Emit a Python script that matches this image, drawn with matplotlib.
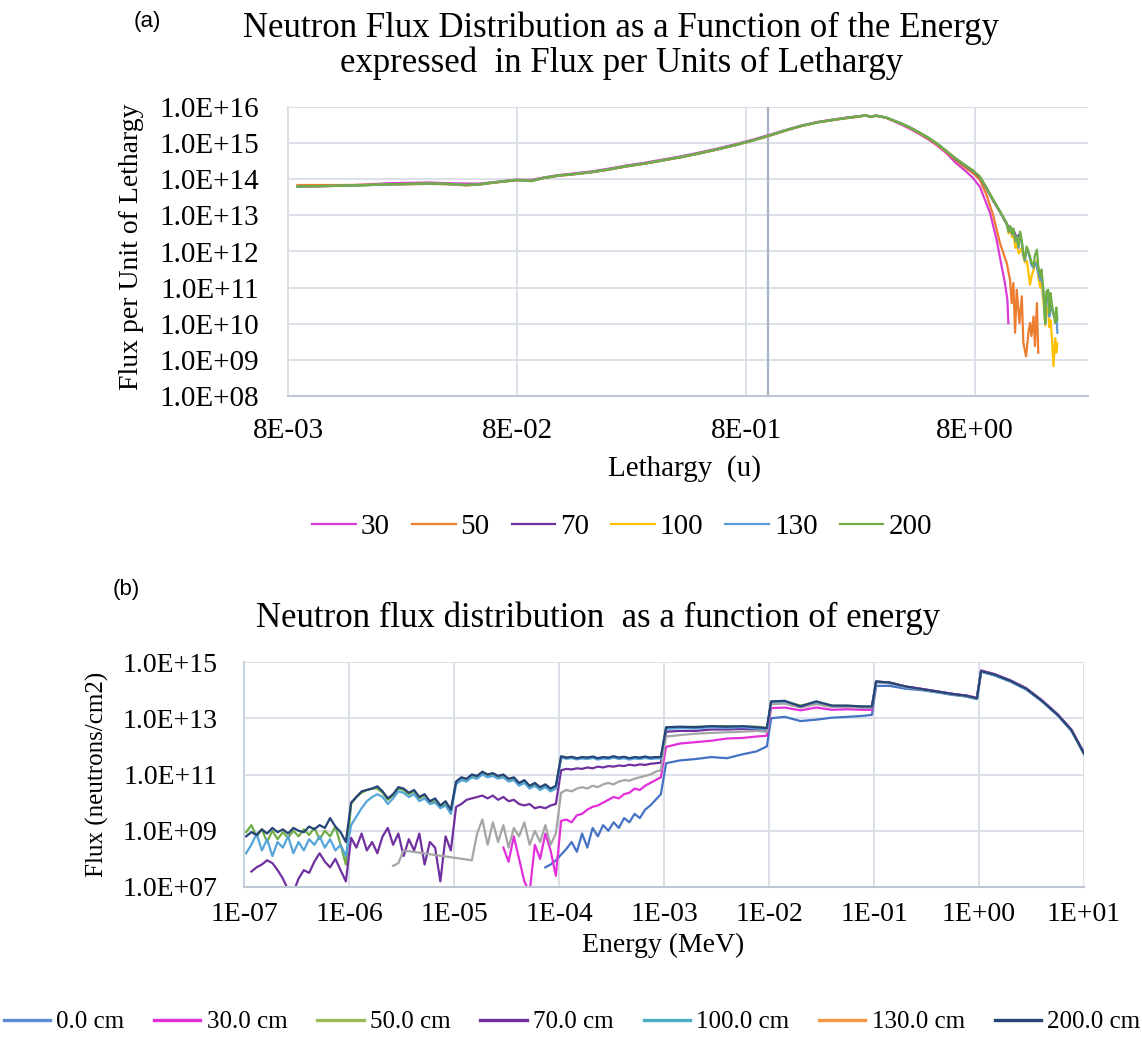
import numpy as np
import matplotlib
matplotlib.use('Agg')
import matplotlib.pyplot as plt
from matplotlib.lines import Line2D
from matplotlib.ticker import NullLocator

# ---------------- (a) flux per unit lethargy ----------------
# shared body of the curve (all six series overlap here), log10 values
u_body = [0.0088, 0.011, 0.014, 0.018, 0.022, 0.027, 0.033, 0.040, 0.048, 0.055,
          0.063, 0.072, 0.080, 0.092, 0.105, 0.12, 0.14, 0.17, 0.20, 0.24,
          0.29, 0.35, 0.42, 0.50, 0.60, 0.72, 0.86, 1.0, 1.2, 1.4,
          1.65, 1.9, 2.15, 2.35, 2.5, 2.65, 2.8, 2.95, 3.1, 3.3,
          3.55, 3.85, 4.2, 4.6, 5.0, 5.5, 6.0]
lphi_body = [13.80, 13.81, 13.82, 13.84, 13.86, 13.87, 13.88, 13.87, 13.84, 13.86,
             13.91, 13.95, 13.98, 13.95, 14.04, 14.10, 14.14, 14.20, 14.27, 14.36,
             14.44, 14.53, 14.62, 14.72, 14.83, 14.95, 15.08, 15.20, 15.36, 15.48,
             15.58, 15.64, 15.69, 15.72, 15.74, 15.77, 15.73, 15.76, 15.74, 15.70,
             15.62, 15.53, 15.42, 15.28, 15.15, 14.97, 14.78]
lphi_body_30 = [13.80, 13.81, 13.82, 13.86, 13.89, 13.90, 13.91, 13.89, 13.88, 13.88,
                13.92, 13.96, 13.99, 13.98, 14.05, 14.11, 14.16, 14.22, 14.29, 14.38,
                14.46, 14.55, 14.64, 14.74, 14.85, 14.97, 15.10, 15.22, 15.37, 15.49,
                15.59, 15.65, 15.70, 15.73, 15.75, 15.77, 15.74, 15.76, 15.74, 15.69,
                15.60, 15.50, 15.38, 15.24, 15.10, 14.92, 14.72]
lphi_body_50 = [13.84, 13.84, 13.84, 13.85, 13.86, 13.86, 13.87, 13.86, 13.83, 13.85,
                13.90, 13.94, 13.97, 13.96, 14.03, 14.09, 14.13, 14.19, 14.26, 14.35,
                14.43, 14.52, 14.61, 14.71, 14.82, 14.94, 15.07, 15.19, 15.35, 15.47,
                15.57, 15.63, 15.68, 15.71, 15.73, 15.76, 15.72, 15.75, 15.73, 15.69,
                15.61, 15.52, 15.40, 15.26, 15.12, 14.94, 14.75]

# high-lethargy tails where the series split apart (log10 values)
tail_u_30 = [6.6, 7.2, 7.8, 8.4, 9.31, 9.94, 10.45, 10.8, 11.07, 11.18]
tail_l_30 = [14.45, 14.25, 14.05, 13.79, 13.06, 12.32, 11.59, 11.13, 10.67, 10.02]

tail_u_50 = [6.6, 7.2, 7.8, 8.4, 9.0, 9.6, 10.28, 11.0, 11.37, 11.56, 11.76, 11.96,
             12.16, 12.5, 12.8, 13.0, 13.36, 13.68, 13.9, 14.1, 14.4, 14.6, 14.9, 15.1]
tail_l_50 = [14.52, 14.33, 14.18, 13.98, 13.55, 13.00, 12.23, 11.68, 11.22, 10.57, 11.13, 9.75,
             10.94, 10.02, 10.76, 9.47, 9.10, 9.75, 10.02, 9.66, 10.20, 9.38, 10.57, 9.20]

tail_u_70 = [6.6, 7.2, 7.8, 8.4, 9.0, 9.6, 10.3, 11.0, 11.4, 11.76, 12.16, 12.58]
tail_l_70 = [14.55, 14.38, 14.23, 14.05, 13.72, 13.40, 13.08, 12.75, 12.66, 12.60, 12.38, 12.50]

tail_u = [6.6, 7.2, 7.8, 8.4, 9.0, 9.6, 10.3, 11.0, 11.2, 11.4,
          11.6, 11.76, 12.0, 12.16, 12.4, 12.58, 12.8, 13.0, 13.2, 13.45,
          13.7, 13.9, 14.1, 14.4, 14.6, 14.9, 15.1, 15.4, 15.6, 15.9,
          16.0, 16.2, 16.4, 16.7, 16.9, 17.1, 17.3, 17.6, 17.9, 18.1, 18.3]
tail_l_100 = [14.57, 14.40, 14.25, 14.07, 13.75, 13.43, 13.10, 12.78, 12.50, 12.60,
              12.40, 12.50, 12.10, 12.25, 11.95, 12.00, 12.10, 11.85, 11.70, 11.75,
              11.40, 11.08, 11.30, 11.50, 11.60, 11.75, 11.30, 11.00, 11.20, 10.60,
              10.40, 9.95, 10.50, 10.30, 9.90, 10.10, 9.66, 8.83, 9.60, 9.20, 9.45]
tail_l_130 = [14.57, 14.40, 14.25, 14.07, 13.75, 13.43, 13.10, 12.78, 12.55, 12.68,
              12.48, 12.60, 12.28, 12.38, 12.10, 12.50, 12.25, 11.90, 11.75, 12.10,
              11.95, 11.80, 11.62, 11.55, 11.70, 11.60, 11.40, 11.20, 11.35, 10.85,
              10.60, 10.00, 10.80, 10.70, 10.20, 10.60, 10.40, 10.25, 10.20, 10.30, 9.75]
tail_l_200 = [14.57, 14.40, 14.25, 14.07, 13.75, 13.43, 13.10, 12.78, 12.55, 12.70,
              12.50, 12.64, 12.30, 12.41, 12.15, 12.55, 12.30, 11.95, 11.80, 12.14,
              12.00, 11.86, 11.70, 11.59, 11.90, 12.05, 11.60, 11.31, 11.50, 10.94,
              10.70, 10.02, 10.90, 10.94, 10.30, 10.85, 10.57, 10.30, 10.02, 10.45, 10.10]

labels_a = ['30', '50', '70', '100', '130', '200']
colors_a = ['#D93BD3', '#ED7D31', '#7030A0', '#FFC000', '#5B9BD5', '#70AD47']

# ---------------- (b) flux vs energy ----------------
loge = [-6.98, -6.93, -6.88, -6.83, -6.78, -6.73, -6.68, -6.63, -6.58, -6.53,
        -6.48, -6.43, -6.38, -6.33, -6.28, -6.23, -6.18, -6.13, -6.08, -6.03,
        -5.98, -5.93, -5.88, -5.83, -5.78, -5.73, -5.68, -5.63, -5.58, -5.53,
        -5.48, -5.43, -5.38, -5.33, -5.28, -5.23, -5.18, -5.13, -5.08, -5.03,
        -4.98, -4.93, -4.88, -4.83, -4.78, -4.73, -4.68, -4.63, -4.58, -4.53,
        -4.48, -4.43, -4.38, -4.33, -4.28, -4.23, -4.18, -4.13, -4.08, -4.03,
        -3.98, -3.93, -3.88, -3.83, -3.78, -3.73, -3.68, -3.63, -3.58, -3.53,
        -3.48, -3.43, -3.38, -3.33, -3.28, -3.23, -3.18, -3.13, -3.08, -3.03,
        -2.98, -2.85, -2.70, -2.55, -2.40, -2.25, -2.12, -2.02,
        -1.98, -1.85, -1.70, -1.55, -1.40, -1.25, -1.12, -1.02,
        -0.98, -0.85, -0.70, -0.55, -0.40, -0.25, -0.12, -0.02,
        0.02, 0.15, 0.30, 0.45, 0.60, 0.75, 0.88, 1.00]

n = np.nan
lf_0 = ([n] * 40 +
        [n] * 17 + [7.70, 7.80, 7.95] +
        [8.15, 8.35, 8.60, 8.25, 8.90, 8.40, 9.10, 8.80, 9.20, 9.00,
         9.30, 9.10, 9.45, 9.30, 9.60, 9.45, 9.75, 9.90, 10.10, 10.30] +
        [11.40, 11.50, 11.55, 11.62, 11.58, 11.72, 11.82, 12.00] +
        [13.00, 13.05, 12.90, 12.95, 13.02, 13.05, 13.08, 13.12] +
        [14.15, 14.15, 14.05, 14.00, 13.92, 13.83, 13.77, 13.68] +
        [14.65, 14.52, 14.30, 14.02, 13.60, 13.10, 12.56, 11.74])

lf_30 = ([n] * 40 +
         [n] * 9 + [8.40, 7.90, 8.80, 8.00, 7.20, 6.80, 8.50, 8.00, 8.90, 8.30, 7.40] +
         [9.35, 9.40, 9.30, 9.55, 9.60, 9.75, 9.85, 9.90, 10.00, 10.10,
          10.20, 10.15, 10.30, 10.35, 10.50, 10.45, 10.60, 10.70, 10.80, 10.90] +
         [11.98, 12.10, 12.15, 12.20, 12.28, 12.30, 12.35, 12.38] +
         [13.36, 13.38, 13.28, 13.38, 13.30, 13.32, 13.30, 13.30] +
         [14.30, 14.27, 14.13, 14.05, 13.96, 13.87, 13.81, 13.73] +
         [14.70, 14.57, 14.35, 14.07, 13.64, 13.14, 12.60, 11.78])

lf_50 = ([8.95, 9.20, 8.80, 9.05, 8.60, 9.00, 8.70, 8.95, 8.75, 9.00,
          8.80, 9.05, 8.85, 9.10, 8.70, 9.00, 8.80, 9.15, 8.50, 7.80] +
         [9.95, 10.20, 10.35, 10.45, 10.50, 10.50, 10.35, 10.10, 10.25, 10.50,
          10.45, 10.30, 10.40, 10.15, 10.25, 10.00, 10.05, 9.85, 9.95, 9.70] +
         [10.70, 10.85, 10.80, 10.95, 10.90, 11.05, 10.95, 11.00, 10.90, 10.95,
          10.80, 10.85, 10.65, 10.75, 10.55, 10.65, 10.50, 10.60, 10.45, 10.55] +
         [11.63, 11.60, 11.60, 11.57, 11.60, 11.60, 11.62, 11.57, 11.60, 11.58,
          11.63, 11.58, 11.62, 11.57, 11.60, 11.58, 11.62, 11.58, 11.60, 11.60] +
         [12.66, 12.68, 12.70, 12.70, 12.72, 12.70, 12.70, 12.66] +
         [13.58, 13.60, 13.45, 13.58, 13.44, 13.44, 13.42, 13.40] +
         [14.30, 14.26, 14.12, 14.03, 13.94, 13.85, 13.79, 13.70] +
         [14.67, 14.54, 14.32, 14.04, 13.61, 13.11, 12.57, 11.72])

lf_70 = ([n, 7.55, 7.70, 7.80, 7.95, 7.85, 7.60, 7.30, 6.90, 6.80,
          7.30, 7.60, 7.50, 7.90, 8.20, 7.90, 7.70, 8.00, 7.60, 7.20] +
         [8.75, 8.40, 8.90, 8.30, 8.60, 8.20, 8.80, 9.10, 8.50, 8.90,
          8.10, 8.70, 8.30, 8.90, 7.80, 8.60, 8.40, 7.20, 8.80, 8.30] +
         [9.85, 9.95, 10.10, 10.15, 10.20, 10.25, 10.15, 10.25, 10.10, 10.20,
          10.05, 10.10, 9.95, 9.90, 9.95, 9.80, 9.85, 9.80, 9.90, 9.95] +
         [11.15, 11.20, 11.18, 11.22, 11.20, 11.25, 11.22, 11.28, 11.25, 11.30,
          11.28, 11.32, 11.30, 11.35, 11.32, 11.36, 11.34, 11.38, 11.40, 11.42] +
         [12.52, 12.55, 12.55, 12.60, 12.60, 12.62, 12.60, 12.58] +
         [13.56, 13.58, 13.42, 13.56, 13.42, 13.42, 13.40, 13.40] +
         [14.30, 14.26, 14.12, 14.04, 13.95, 13.86, 13.80, 13.71] +
         [14.69, 14.56, 14.34, 14.06, 13.63, 13.13, 12.59, 11.76])

lf_100 = ([8.20, 8.50, 8.90, 8.30, 8.70, 8.10, 8.60, 8.40, 8.80, 8.20,
           8.60, 8.30, 8.70, 8.50, 8.80, 8.40, 8.70, 8.30, 8.50, 8.10] +
          [9.20, 9.50, 9.80, 10.05, 10.20, 10.30, 10.20, 9.95, 10.15, 10.40,
           10.35, 10.20, 10.30, 10.05, 10.15, 9.95, 10.00, 9.80, 9.90, 9.60] +
          [10.65, 10.80, 10.75, 10.90, 10.85, 11.00, 10.90, 10.95, 10.85, 10.90,
           10.75, 10.80, 10.60, 10.70, 10.50, 10.60, 10.45, 10.55, 10.40, 10.50] +
          [11.60, 11.56, 11.58, 11.54, 11.57, 11.55, 11.59, 11.53, 11.57, 11.55,
           11.60, 11.55, 11.58, 11.53, 11.57, 11.55, 11.59, 11.55, 11.57, 11.57] +
          [12.62, 12.65, 12.64, 12.68, 12.66, 12.68, 12.64, 12.60] +
          [13.55, 13.56, 13.40, 13.55, 13.42, 13.42, 13.38, 13.38] +
          [14.28, 14.24, 14.10, 14.02, 13.93, 13.84, 13.78, 13.69] +
          [14.66, 14.53, 14.31, 14.03, 13.60, 13.10, 12.56, 11.73])

lf_130 = ([n] * 20 +
          [n] * 8 + [7.75, 7.85, 8.30] + [n] * 9 +
          [n, n, n, 7.95, 8.90, 9.40, 8.50, 9.30, 8.60, 9.20,
           8.40, 9.10, 8.80, 9.30, 8.50, 9.00, 8.60, 9.20, 8.50, 8.90] +
          [10.35, 10.45, 10.40, 10.50, 10.55, 10.50, 10.60, 10.55, 10.65, 10.70,
           10.65, 10.75, 10.80, 10.78, 10.85, 10.90, 10.95, 11.00, 11.10, 11.15] +
          [12.35, 12.40, 12.45, 12.48, 12.50, 12.52, 12.55, 12.52] +
          [13.50, 13.52, 13.38, 13.50, 13.40, 13.40, 13.38, 13.38] +
          [14.28, 14.25, 14.11, 14.03, 13.94, 13.85, 13.79, 13.70] +
          [14.68, 14.55, 14.33, 14.05, 13.62, 13.12, 12.58, 11.75])

lf_200 = ([8.80, 8.95, 8.85, 9.05, 8.90, 9.10, 8.95, 9.05, 8.90, 9.10,
           9.00, 8.95, 9.15, 9.05, 9.20, 9.10, 9.45, 9.15, 8.95, 8.60] +
          [10.00, 10.20, 10.40, 10.45, 10.50, 10.58, 10.40, 10.15, 10.30, 10.55,
           10.50, 10.35, 10.45, 10.20, 10.30, 10.05, 10.15, 9.90, 10.05, 9.75] +
          [10.75, 10.90, 10.85, 11.00, 10.95, 11.10, 11.00, 11.05, 10.95, 11.00,
           10.85, 10.90, 10.70, 10.80, 10.60, 10.70, 10.55, 10.65, 10.50, 10.60] +
          [11.65, 11.60, 11.63, 11.58, 11.62, 11.60, 11.64, 11.58, 11.62, 11.60,
           11.65, 11.60, 11.63, 11.58, 11.62, 11.60, 11.64, 11.60, 11.62, 11.62] +
          [12.68, 12.70, 12.68, 12.72, 12.70, 12.72, 12.68, 12.65] +
          [13.60, 13.62, 13.42, 13.60, 13.45, 13.45, 13.42, 13.42] +
          [14.31, 14.27, 14.13, 14.04, 13.95, 13.86, 13.80, 13.71] +
          [14.68, 14.55, 14.33, 14.05, 13.62, 13.12, 12.58, 11.75])

labels_b = ['0.0 cm', '30.0 cm', '50.0 cm', '70.0 cm', '100.0 cm', '130.0 cm', '200.0 cm']
colors_b = ['#4472C4', '#E22FD9', '#70AD47', '#7030A0', '#55A5DA', '#A5A5A5', '#264478']
legend_colors_b = ['#5B8BD0', '#E22FD9', '#9BBB59', '#7030A0', '#4BACC6', '#F79646', '#264478']

# ---------------- figure ----------------
W, H = 1142, 1039
plt.rcParams['font.family'] = ['Liberation Serif', 'DejaVu Serif']
fig = plt.figure(figsize=(W / 100, H / 100), dpi=100)


def fx(x):
    return x / W


def fy(y):
    return 1 - y / H


grid_c = '#D9DEE7'

# panel (a)
ax1 = fig.add_axes([fx(288), fy(396), 800 / W, 289 / H])
bodies = {'30': lphi_body_30, '50': lphi_body_50}
tails = [(tail_u_30, tail_l_30), (tail_u_50, tail_l_50), (tail_u_70, tail_l_70),
         (tail_u, tail_l_100), (tail_u, tail_l_130), (tail_u, tail_l_200)]
ax1.axvline(1.0, color='#A9B3C6', lw=1.6, zorder=1.5)
for lab, col, (tu, tl) in zip(labels_a, colors_a, tails):
    body = bodies.get(lab, lphi_body)
    u = np.array(u_body + tu)
    phi = 10 ** np.array(body + tl)
    ax1.plot(u, phi, color=col, lw=1.6, label=lab, zorder=2)

ax1.set_xscale('log')
ax1.set_yscale('log')
ax1.set_xlim(8e-3, 24.9)
ax1.set_ylim(1e8, 1e16)
ax1.set_xticks([8e-3, 8e-2, 8e-1, 8])
ax1.set_xticklabels(['8E-03', '8E-02', '8E-01', '8E+00'])
ax1.set_yticks([10.0 ** k for k in range(8, 17)])
ax1.set_yticklabels(['1.0E+%02d' % k for k in range(8, 17)])
ax1.xaxis.set_minor_locator(NullLocator())
ax1.yaxis.set_minor_locator(NullLocator())
ax1.tick_params(axis='y', length=0, labelsize=21, pad=21)
ax1.tick_params(axis='x', length=0, labelsize=21, pad=16)
ax1.grid(True, color=grid_c, lw=1.3)
ax1.set_axisbelow(True)
for s in ['top', 'right']:
    ax1.spines[s].set_visible(False)
ax1.spines['left'].set_color(grid_c)
ax1.spines['left'].set_linewidth(1.3)
ax1.spines['bottom'].set_color('#BFC7D4')
ax1.spines['bottom'].set_linewidth(1.5)

fig.text(fx(147), fy(22), '(a)', family='Liberation Sans', size=16, ha='center', va='center')
fig.text(fx(621), fy(37), 'Neutron Flux Distribution as a Function of the Energy',
         size=25, ha='center', va='baseline')
fig.text(fx(622), fy(72), 'expressed  in Flux per Units of Lethargy',
         size=25, ha='center', va='baseline')
fig.text(fx(132), fy(247), 'Flux per Unit of Lethargy', size=20, rotation=90,
         ha='center', va='center')
fig.text(fx(684), fy(469), 'Lethargy  (u)', size=21, ha='center', va='center')
fig.legend(*ax1.get_legend_handles_labels(), loc='center', bbox_to_anchor=(fx(622), fy(527)),
           ncol=6, frameon=False, fontsize=21, handlelength=1.5, handletextpad=0.17,
           columnspacing=0.75)

# panel (b)
ax2 = fig.add_axes([fx(244), fy(887), 840 / W, 225 / H])
energy = 10 ** np.array(loge)
for lab, col, lf in zip(labels_b, colors_b, [lf_0, lf_30, lf_50, lf_70, lf_100, lf_130, lf_200]):
    lf = np.array(lf)
    ok = ~np.isnan(lf)
    ax2.plot(energy[ok], 10 ** lf[ok], color=col, lw=1.6, zorder=2)

ax2.set_xscale('log')
ax2.set_yscale('log')
ax2.set_xlim(1e-7, 10)
ax2.set_ylim(1e7, 1e15)
ax2.set_xticks([10.0 ** k for k in range(-7, 2)])
ax2.set_xticklabels(['1E-07', '1E-06', '1E-05', '1E-04', '1E-03', '1E-02', '1E-01', '1E+00', '1E+01'])
ax2.set_yticks([10.0 ** k for k in range(7, 16, 2)])
ax2.set_yticklabels(['1.0E+%02d' % k for k in range(7, 16, 2)])
ax2.xaxis.set_minor_locator(NullLocator())
ax2.yaxis.set_minor_locator(NullLocator())
ax2.tick_params(axis='y', length=0, labelsize=20, pad=19)
ax2.tick_params(axis='x', length=0, labelsize=20, pad=11)
ax2.grid(True, color=grid_c, lw=1.3)
ax2.set_axisbelow(True)
for s in ['top', 'right']:
    ax2.spines[s].set_visible(False)
ax2.spines['left'].set_color('#C9D1DD')
ax2.spines['left'].set_linewidth(1.5)
ax2.spines['bottom'].set_color('#BFC7D4')
ax2.spines['bottom'].set_linewidth(1.5)

fig.text(fx(126), fy(589), '(b)', family='Liberation Sans', size=16, ha='center', va='center')
fig.text(fx(598), fy(627), 'Neutron flux distribution  as a function of energy',
         size=25, ha='center', va='baseline')
fig.text(fx(97), fy(774), 'Flux (neutrons/cm2)', size=18, rotation=90, ha='center', va='center')
fig.text(fx(663), fy(945), 'Energy (MeV)', size=20, ha='center', va='center')

handles_b = [Line2D([], [], color=c, lw=2.4) for c in legend_colors_b]
fig.legend(handles_b, labels_b, loc='center', bbox_to_anchor=(fx(572), fy(1022)),
           ncol=7, frameon=False, fontsize=18, handlelength=1.85, handletextpad=0.25,
           columnspacing=1.2, borderpad=0.1)

fig.savefig('out.png', dpi=100)
